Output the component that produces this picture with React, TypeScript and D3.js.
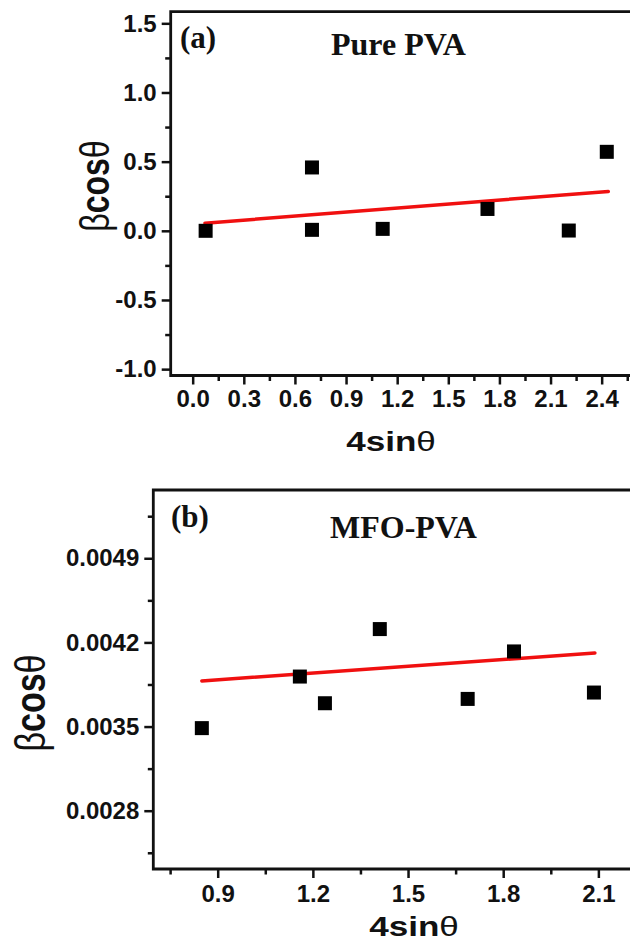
import React, { useEffect, useRef } from "react";
import * as d3 from "d3";

// Panel (a) Pure PVA
const aX = [0.076, 0.7, 0.7, 1.115, 1.73, 2.207, 2.43];
const aY = [0.0, 0.458, 0.007, 0.014, 0.158, 0.002, 0.571];
const aFitX = [0.072, 2.439];
const aFitY = [0.055, 0.285];
const aXTicks = [0, 0.3, 0.6, 0.9, 1.2, 1.5, 1.8, 2.1, 2.4];
const aXMinor = [0.15, 0.45, 0.75, 1.05, 1.35, 1.65, 1.95, 2.25, 2.55];
const aYTicks = [-1.0, -0.5, 0.0, 0.5, 1.0, 1.5];
const aYMinor = [-0.75, -0.25, 0.25, 0.75, 1.25];

// Panel (b) MFO-PVA
const bX = [0.85, 1.159, 1.238, 1.411, 1.688, 1.834, 2.086];
const bY = [0.003487, 0.003916, 0.003694, 0.004311, 0.00373, 0.004125, 0.003783];
const bFitX = [0.85, 2.089];
const bFitY = [0.00388, 0.004112];
const bXTicks = [0.9, 1.2, 1.5, 1.8, 2.1];
const bXMinor = [0.75, 1.05, 1.35, 1.65, 1.95, 2.25];
const bYTicks = [0.0028, 0.0035, 0.0042, 0.0049];
const bYMinor = [0.00245, 0.00315, 0.00385, 0.00455, 0.00525];

const W = 630, H = 944;
const SANS = "'Liberation Sans', Arial, sans-serif";
const SERIF = "'Liberation Serif', 'Times New Roman', serif";

// plain hyphen for negatives, like the original figure
const fmt = (spec) => {
  const f = d3.format(spec);
  return (d) => f(d).replace("\u2212", "-");
};

function drawPanel(svg, p) {
  const x = d3.scaleLinear().domain(p.xDomain).range([p.left, p.right]);
  const y = d3.scaleLinear().domain(p.yDomain).range([p.bottom, p.top]);

  const styleAxis = (s) => {
    s.select(".domain").remove();
    s.selectAll("line").attr("stroke", "#111").attr("stroke-width", 2.5);
    s.selectAll("text")
      .attr("font-size", 24)
      .attr("font-weight", "bold")
      .attr("font-family", SANS)
      .attr("fill", "#111");
  };

  // y ticks
  svg.append("g")
    .attr("transform", `translate(${p.left},0)`)
    .call(d3.axisLeft(y).tickValues(p.yMinor).tickSize(5.5).tickFormat(() => ""))
    .call(styleAxis);
  svg.append("g")
    .attr("transform", `translate(${p.left},0)`)
    .call(d3.axisLeft(y).tickValues(p.yTicks).tickSize(9).tickPadding(5).tickFormat(p.yFmt))
    .call(styleAxis);

  // x ticks
  svg.append("g")
    .attr("transform", `translate(0,${p.bottom})`)
    .call(d3.axisBottom(x).tickValues(p.xMinor).tickSize(5.5).tickFormat(() => ""))
    .call(styleAxis);
  svg.append("g")
    .attr("transform", `translate(0,${p.bottom})`)
    .call(d3.axisBottom(x).tickValues(p.xTicks).tickSize(9).tickFormat(fmt(".1f")))
    .call(styleAxis)
    .call(s => s.selectAll("text").attr("y", p.xLabelY).attr("dy", 0));

  // frame (right side is off the canvas)
  svg.append("path")
    .attr("d", `M${p.right},${p.top}H${p.left}V${p.bottom}H${p.right}`)
    .attr("fill", "none")
    .attr("stroke", "#111")
    .attr("stroke-width", 2.8);

  // fit line
  svg.append("path")
    .datum(p.fitX.map((v, i) => [v, p.fitY[i]]))
    .attr("d", d3.line().x(d => x(d[0])).y(d => y(d[1])))
    .attr("fill", "none")
    .attr("stroke", "#f01010")
    .attr("stroke-width", 3.5)
    .attr("stroke-linecap", "round");

  // points
  const s = 14;
  svg.append("g")
    .selectAll("rect")
    .data(p.xs.map((v, i) => [v, p.ys[i]]))
    .enter()
    .append("rect")
    .attr("x", d => x(d[0]) - s / 2)
    .attr("y", d => y(d[1]) - s / 2)
    .attr("width", s)
    .attr("height", s)
    .attr("fill", "#000");

  // panel letter + sample name
  svg.append("text")
    .attr("x", p.letterX).attr("y", p.letterY)
    .attr("font-family", SERIF).attr("font-weight", "bold")
    .attr("font-size", 31).attr("fill", "#111")
    .text(p.letter);
  svg.append("text")
    .attr("x", p.nameX).attr("y", p.nameY)
    .attr("font-family", SERIF).attr("font-weight", "bold")
    .attr("font-size", 32).attr("fill", "#111")
    .text(p.name);

  // x title
  const xt = svg.append("text")
    .attr("transform", `translate(${p.xTitleX},${p.xTitleY}) scale(1.3,1)`)
    .attr("text-anchor", "middle")
    .attr("font-family", SANS).attr("font-size", 27).attr("fill", "#111");
  xt.append("tspan").attr("font-weight", "bold").text("4sin");
  xt.append("tspan").attr("font-weight", "normal").text("θ");

  // y title
  const yt = svg.append("text")
    .attr("transform", `translate(${p.yTitleX},${p.yTitleY}) rotate(-90) scale(1,1.25)`)
    .attr("text-anchor", "middle")
    .attr("font-family", SANS).attr("font-size", p.yTitleSize).attr("fill", "#111");
  yt.append("tspan").attr("font-weight", "normal").text("β");
  yt.append("tspan").attr("font-weight", "bold").text("cos");
  yt.append("tspan").attr("font-weight", "normal").text("θ");
}

const App = () => {
  const ref = useRef(null);

  useEffect(() => {
    const svg = d3.select(ref.current);
    svg.selectAll("*").remove();

    drawPanel(svg, {
      left: 170.7, right: 632, top: 11.7, bottom: 375.5,
      xDomain: [-0.129, 2.578], yDomain: [-1.046, 1.584],
      xs: aX, ys: aY, fitX: aFitX, fitY: aFitY,
      xTicks: aXTicks, xMinor: aXMinor, yTicks: aYTicks, yMinor: aYMinor,
      yFmt: fmt(".1f"), xLabelY: 31.5,
      letter: "(a)", letterX: 180, letterY: 48,
      name: "Pure PVA", nameX: 331, nameY: 55,
      xTitleX: 391, xTitleY: 451,
      yTitleX: 109, yTitleY: 186, yTitleSize: 32,
    });

    drawPanel(svg, {
      left: 153.3, right: 632, top: 490, bottom: 869,
      xDomain: [0.697, 2.206], yDomain: [0.002315, 0.005468],
      xs: bX, ys: bY, fitX: bFitX, fitY: bFitY,
      xTicks: bXTicks, xMinor: bXMinor, yTicks: bYTicks, yMinor: bYMinor,
      yFmt: fmt(".4f"), xLabelY: 32.5,
      letter: "(b)", letterX: 171, letterY: 527,
      name: "MFO-PVA", nameX: 330, nameY: 538,
      xTitleX: 414, xTitleY: 936,
      yTitleX: 45, yTitleY: 703, yTitleSize: 34,
    });
  }, []);

  return (
    <svg
      ref={ref}
      width={W}
      height={H}
      style={{ position: "absolute", left: 0, top: 0, background: "#fff" }}
    ></svg>
  );
};

export default App;
